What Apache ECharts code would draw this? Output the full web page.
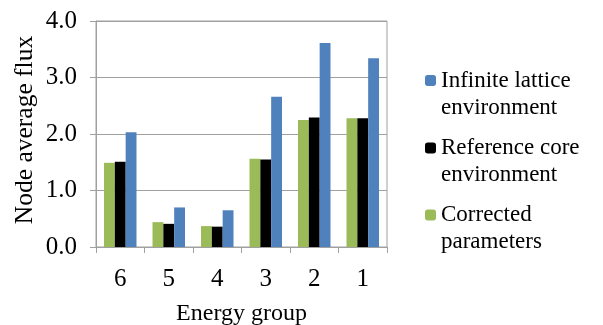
<!DOCTYPE html>
<html>
<head>
<meta charset="utf-8">
<script src="https://cdn.jsdelivr.net/npm/echarts@6/dist/echarts.min.js"></script>
<style>
html,body{margin:0;padding:0;background:#fff;}
#chart{width:603px;height:325px;}
</style>
</head>
<body>
<div id="chart"></div>
<script>
var categories = ['6', '5', '4', '3', '2', '1'];
var corrected = [1.49, 0.44, 0.37, 1.56, 2.25, 2.28];
var referenceCore = [1.51, 0.41, 0.36, 1.55, 2.29, 2.28];
var infiniteLattice = [2.03, 0.70, 0.65, 2.66, 3.61, 3.34];
var yTicks = [0, 1, 2, 3, 4];

var seriesNames = {
  inf: 'Infinite lattice\nenvironment',
  ref: 'Reference core\nenvironment',
  cor: 'Corrected\nparameters'
};

var FONT = "'Liberation Serif', 'Times New Roman', serif";
var chart = echarts.init(document.getElementById('chart'), null, {renderer: 'canvas'});

var legendText = {
  fontFamily: FONT,
  fontSize: 23,
  color: '#000',
  lineHeight: 27
};

function legendFor(name, top) {
  return {
    data: [{name: name}],
    orient: 'vertical',
    left: 425,
    top: top,
    padding: 0,
    itemWidth: 11,
    itemHeight: 11,
    itemGap: 5,
    selectedMode: false,
    // an empty leading line makes the first text line sit level with the swatch
    formatter: function (n) { return '\n' + n; },
    textStyle: legendText
  };
}

chart.setOption({
  animation: false,
  textStyle: {fontFamily: FONT},
  grid: {
    left: 96, right: 216, top: 21, bottom: 78,
    outerBoundsMode: 'none',
    show: true, borderColor: '#a0a0a0', borderWidth: 1,
    backgroundColor: 'transparent'
  },
  legend: [
    legendFor(seriesNames.inf, 40),
    legendFor(seriesNames.ref, 107.5),
    legendFor(seriesNames.cor, 174.5)
  ],
  xAxis: {
    type: 'category',
    data: categories,
    name: 'Energy group',
    nameLocation: 'middle',
    nameGap: 55,
    nameTextStyle: {fontFamily: FONT, fontSize: 24, color: '#000'},
    axisLine: {lineStyle: {color: '#a0a0a0', width: 1}},
    axisTick: {show: true, alignWithLabel: false, length: 6, lineStyle: {color: '#a0a0a0'}},
    axisLabel: {fontFamily: FONT, fontSize: 25, color: '#000', margin: 20},
    splitLine: {show: false}
  },
  yAxis: {
    type: 'value',
    min: yTicks[0], max: yTicks[yTicks.length - 1], interval: 1,
    name: 'Node average flux',
    nameLocation: 'middle',
    nameGap: 58,
    nameTextStyle: {fontFamily: FONT, fontSize: 25.5, color: '#000', padding: [0, 0, 0, 8]},
    axisLine: {show: true, lineStyle: {color: '#a0a0a0', width: 1}},
    axisTick: {show: true, length: 6, lineStyle: {color: '#a0a0a0'}},
    axisLabel: {
      fontFamily: FONT, fontSize: 25, color: '#000', margin: 19,
      formatter: function (v) { return v.toFixed(1); }
    },
    splitLine: {show: true, lineStyle: {color: '#a0a0a0', width: 1}}
  },
  series: [
    {name: seriesNames.cor, type: 'bar', data: corrected, barGap: '0%', barCategoryGap: '33%',
     itemStyle: {color: '#9BBB59'}},
    {name: seriesNames.ref, type: 'bar', data: referenceCore, barGap: '0%', barCategoryGap: '33%',
     itemStyle: {color: '#000000'}},
    {name: seriesNames.inf, type: 'bar', data: infiniteLattice, barGap: '0%', barCategoryGap: '33%',
     itemStyle: {color: '#4F81BD'}}
  ]
});
</script>
</body>
</html>
